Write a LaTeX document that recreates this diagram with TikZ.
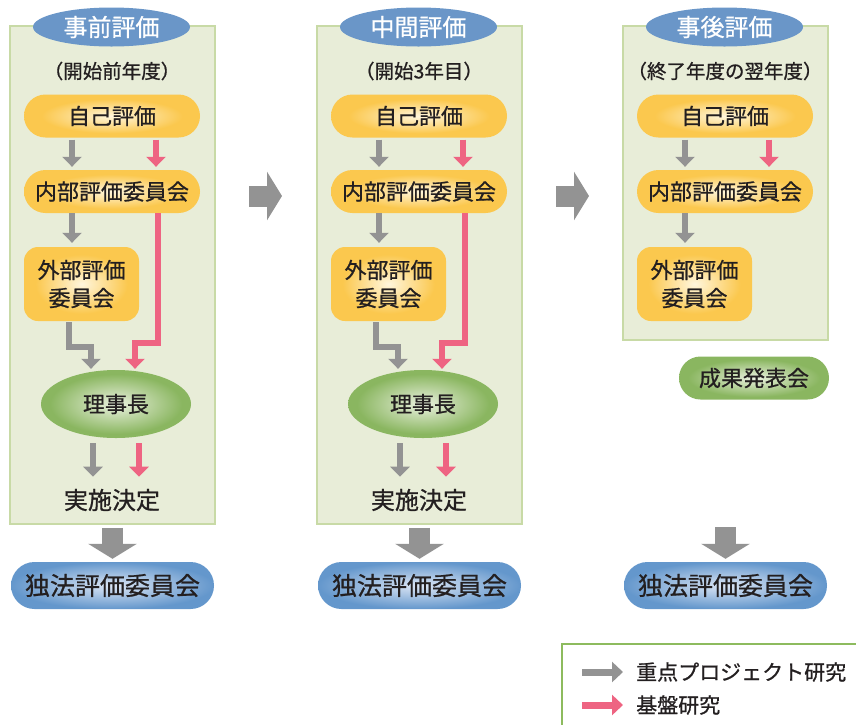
\documentclass[tikz,border=0pt]{standalone}
\usepackage{fontspec}
\setmainfont{Noto Sans CJK JP}[FakeBold=0.8]
\usetikzlibrary{arrows.meta,shapes.geometric}
\definecolor{panelfill}{HTML}{E8EDD8}
\definecolor{panelline}{HTML}{C8DAA6}
\definecolor{titleblue}{HTML}{6A96C8}
\definecolor{arrgray}{HTML}{939393}
\definecolor{arrred}{HTML}{EE6482}
\definecolor{txt}{HTML}{231F20}
\definecolor{orangeC}{HTML}{FBC84E}
\definecolor{creamC}{HTML}{FFF6DD}
\definecolor{greenC}{HTML}{8AB660}
\definecolor{greenL}{HTML}{EAF1DF}
\definecolor{blueC}{HTML}{6497CC}
\definecolor{blueL}{HTML}{DCE6F5}
\definecolor{legendline}{HTML}{8DBB5E}
\pgfdeclareradialshading{pillshade}{\pgfpoint{0bp}{0bp}}{color(0bp)=(creamC); color(20bp)=(orangeC); color(50bp)=(orangeC)}
\pgfdeclareradialshading{greenshade}{\pgfpoint{0bp}{0bp}}{color(0bp)=(greenL); color(22bp)=(greenC); color(50bp)=(greenC)}
\pgfdeclareradialshading{blueshade}{\pgfpoint{0bp}{0bp}}{color(0bp)=(blueL); color(25bp)=(blueC); color(50bp)=(blueC)}
\tikzset{
  panel/.style={draw=panelline, line width=1.5pt, fill=panelfill, minimum width=205pt, inner sep=0pt},
  titlebox/.style={ellipse, fill=titleblue, text=white, minimum width=157pt, minimum height=39pt, inner sep=0pt, font=\fontsize{24}{24}\selectfont},
  subtext/.style={text=txt, inner sep=0pt, font=\fontsize{19.5}{19.5}\selectfont},
  pill/.style={rounded corners=21.5pt, shading=pillshade, minimum width=176pt, minimum height=43pt, inner sep=0pt, text=txt, font=\fontsize{22}{22}\selectfont},
  extbox/.style={rounded corners=14pt, shading=pillshade, minimum width=115pt, minimum height=74pt, inner sep=0pt, text=txt, align=center, font=\fontsize{22}{28}\selectfont},
  boss/.style={ellipse, shading=greenshade, minimum width=150pt, minimum height=68pt, inner sep=0pt, text=txt, font=\fontsize{22}{22}\selectfont},
  greenpill/.style={rounded corners=21.5pt, shading=greenshade, minimum width=150pt, minimum height=43pt, inner sep=0pt, text=txt, font=\fontsize{22}{22}\selectfont},
  decide/.style={text=txt, inner sep=0pt, font=\fontsize{24}{24}\selectfont},
  bluepill/.style={rounded corners=23.5pt, shading=blueshade, minimum width=203pt, minimum height=47pt, inner sep=0pt, text=txt, font=\fontsize{25}{25}\selectfont},
  garr/.style={draw=arrgray, line width=6.5pt, line join=miter, -{Triangle[width=19pt,length=10pt]}},
  rarr/.style={draw=arrred, line width=6.5pt, line join=miter, -{Triangle[width=19pt,length=10pt]}},
  bigarr/.style={draw=arrgray, line width=21pt, -{Triangle[width=48pt,length=15pt]}},
  legtext/.style={text=txt, inner sep=0pt, anchor=west, font=\fontsize{21}{21}\selectfont},
}
\begin{document}
\begin{tikzpicture}[x=1pt,y=-1pt]
\useasboundingbox (0,0) rectangle (856,724);
% ---------- panels ----------
\foreach \i/\ox/\t/\s in {1/0/事前評価/（開始前年度）,2/307/中間評価/（開始3年目）}{
  \node[panel, minimum height=498pt] (p\i) at (112.5+\ox,275) {};
  \node[titlebox] (t\i) at (111.5+\ox,27) {\t};
  \node[subtext] (s\i) at (112+\ox,71) {\s};
  \node[pill] (a\i) at (112+\ox,116) {自己評価};
  \node[pill] (b\i) at (112+\ox,191.5) {内部評価委員会};
  \node[extbox] (c\i) at (81.5+\ox,284) {外部評価\\委員会};
  \node[boss] (d\i) at (116+\ox,404) {理事長};
  \node[decide] (e\i) at (112+\ox,500) {実施決定};
  \node[bluepill] (f\i) at (112.5+\ox,585.5) {独法評価委員会};
  \draw[garr] ([xshift=-40pt,yshift=-2pt]a\i.south) -- ([xshift=-40pt,yshift=3pt]b\i.north);
  \draw[rarr] ([xshift=44pt,yshift=-2pt]a\i.south) -- ([xshift=44pt,yshift=3pt]b\i.north);
  \draw[garr] ([xshift=-40pt]b\i.south) -- ([xshift=-9.5pt,yshift=4pt]c\i.north);
  \draw[garr] ([xshift=-12.5pt,yshift=-1pt]c\i.south) -- ++(0,25) -| ([xshift=-25pt,yshift=1pt]d\i.north);
  \draw[rarr] ([xshift=46pt]b\i.south) -- ++(0,130) -| ([xshift=19pt,yshift=1pt]d\i.north);
  \draw[garr] ([xshift=-23pt,yshift=-5pt]d\i.south) -- ([xshift=-19pt,yshift=12pt]e\i.north);
  \draw[rarr] ([xshift=23pt,yshift=-5pt]d\i.south) -- ([xshift=27pt,yshift=12pt]e\i.north);
  \draw[bigarr, shorten <=3pt, shorten >=3pt] (p\i.south) -- (f\i.north);
}
% ---------- panel 3 ----------
\node[panel, minimum height=314pt] (p3) at (725.5,183) {};
\node[titlebox] (t3) at (724.5,27) {事後評価};
\node[subtext] (s3) at (725,71) {（終了年度の翌年度）};
\node[pill] (a3) at (725,116) {自己評価};
\node[pill] (b3) at (725,191.5) {内部評価委員会};
\node[extbox] (c3) at (694.5,284) {外部評価\\委員会};
\node[greenpill] (g3) at (754,378) {成果発表会};
\node[bluepill] (f3) at (725.5,585.5) {独法評価委員会};
\draw[garr] ([xshift=-40pt,yshift=-2pt]a3.south) -- ([xshift=-40pt,yshift=3pt]b3.north);
\draw[rarr] ([xshift=44pt,yshift=-2pt]a3.south) -- ([xshift=44pt,yshift=3pt]b3.north);
\draw[garr] ([xshift=-40pt]b3.south) -- ([xshift=-9.5pt,yshift=4pt]c3.north);
\coordinate (f3s) at (725.5,527);
\draw[bigarr, shorten >=3pt] (f3s) -- (f3.north);
% ---------- arrows between panels ----------
\coordinate (r1s) at (249,196);
\coordinate (r1e) at (282,196);
\coordinate (r2s) at (556,196);
\coordinate (r2e) at (589,196);
\draw[bigarr] (r1s) -- (r1e);
\draw[bigarr] (r2s) -- (r2e);
% ---------- legend ----------
\draw[legendline, line width=2pt] (860,644) -- (562,644) -- (562,730);
\coordinate (lg1) at (582,672);
\coordinate (lg2) at (582,705);
\node[legtext] (lt1) at (636,672) {重点プロジェクト研究};
\node[legtext] (lt2) at (636,705) {基盤研究};
\draw[draw=arrgray, line width=7pt, -{Triangle[width=20pt,length=11pt]}] (lg1) -- ([xshift=-13pt]lt1.west);
\draw[draw=arrred, line width=7pt, -{Triangle[width=20pt,length=11pt]}] (lg2) -- ([xshift=-13pt]lt2.west);
\end{tikzpicture}
\end{document}
